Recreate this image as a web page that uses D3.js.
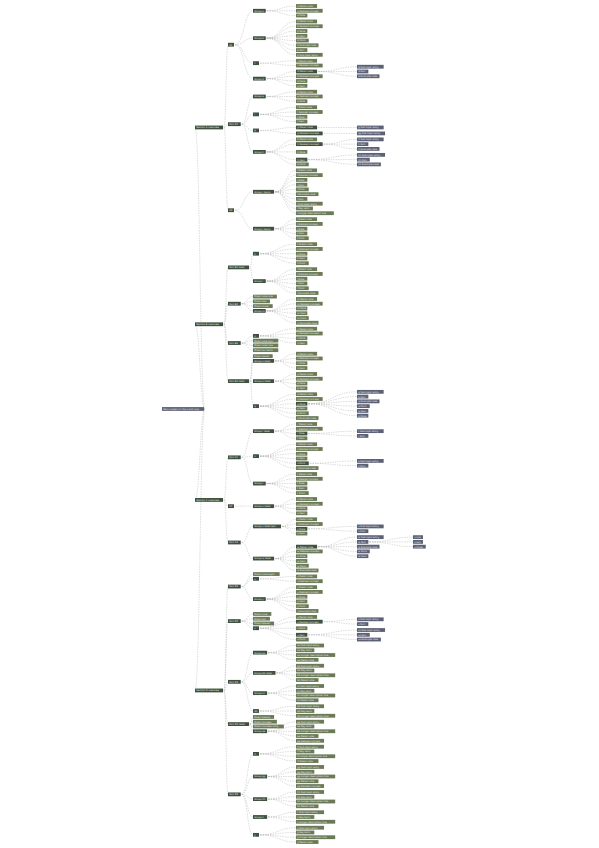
<!DOCTYPE html>
<html><head><meta charset="utf-8">
<script src="https://cdn.jsdelivr.net/npm/d3@7"></script>
<style>body{margin:0;background:#fff}</style></head>
<body><svg id="c" width="599" height="848"></svg>
<script>
// Tree data (labels in the reference are illegible at this size; short labels used)
const words = ["Item","Detail note","Sub topic entry","Point","Related concept","Key term","Example case","Note","Longer description line","Fact"];
function leaves(n, pre, kids) {
  const out = [];
  for (let i = 0; i < n; i++) {
    const o = {name: pre + " " + words[(i * 3 + pre.length) % words.length]};
    if (kids && kids[i]) o.children = kids[i];
    out.push(o);
  }
  return out;
}
function purple(n, pre, deep) {
  const out = [];
  for (let i = 0; i < n; i++) {
    const o = {name: pre + " " + words[(i * 7 + 2) % words.length], deep: true};
    if (deep && deep[i]) o.children = deep[i].map(t => ({name: t, deep: true}));
    out.push(o);
  }
  return out;
}
const branchA = {name: "Section A overview", children: [
  {name: "A1", children: [
    {name: "Group a", children: leaves(3, "a")},
    {name: "Group b", children: leaves(8, "b")},
    {name: "c", children: leaves(2, "c")},
    {name: "Group d", children: leaves(4, "d", {0: purple(3, "d")})}]},
  {name: "Part A2", children: [
    {name: "Group e", children: leaves(3, "e")},
    {name: "f", children: leaves(4, "f")},
    {name: "g", children: leaves(2, "g", {0: purple(1, "g"), 1: purple(1, "gg")})},
    {name: "Group h", children: leaves(5, "h", {1: purple(3, "h"), 3: purple(3, "hh")})}]},
  {name: "A3", children: [
    {name: "Group i items", children: leaves(10, "i")},
    {name: "Group j items", children: leaves(5, "j")}]}]};
const branchB = {name: "Section B overview", children: [
  {name: "Part B1 label", children: [
    {name: "k", children: leaves(5, "k")},
    {name: "Group l", children: leaves(6, "l")}]},
  {name: "Part B2", children: [
    {name: "Direct note one"}, {name: "Direct two"}, {name: "Direct three"},
    {name: "Group m", children: leaves(6, "m")}]},
  {name: "Part B3", children: [
    {name: "n", children: leaves(4, "n")},
    {name: "Direct note four"}, {name: "Direct note five"}, {name: "Direct six items"}]},
  {name: "Part B4 label", children: [
    {name: "Direct seven"},
    {name: "Group o label", children: leaves(4, "o")},
    {name: "Group p label", children: leaves(4, "p")},
    {name: "q", children: leaves(6, "q", {2: purple(6, "q")})}]}]};
const branchC = {name: "Section C overview", children: [
  {name: "Part C1", children: [
    {name: "Group r label", children: leaves(4, "r", {2: purple(2, "r")})},
    {name: "s", children: leaves(6, "s", {4: purple(2, "s")})},
    {name: "Group t", children: leaves(5, "t")}]},
  {name: "C2", children: [
    {name: "Group u label", children: leaves(4, "u")}]},
  {name: "Part C3", children: [
    {name: "Group v label text", children: leaves(4, "v", {2: purple(2, "v")})},
    {name: "Group w label", children: leaves(6, "w", {0: purple(5, "w", {1: ["x one", "x two", "x three"]})})}]}]};
const branchD = {name: "Section D overview", children: [
  {name: "Part D1", children: [
    {name: "Direct note eight"},
    {name: "x", children: leaves(2, "x")},
    {name: "Group y", children: leaves(6, "y")}]},
  {name: "Part D2", children: [
    {name: "Direct nine"}, {name: "Direct ten"}, {name: "Direct eleven"},
    {name: "z", children: leaves(5, "z", {1: purple(2, "z"), 3: purple(3, "zz")})}]},
  {name: "Part D3", children: [
    {name: "Group aa", children: leaves(4, "aa")},
    {name: "Group bb label", children: leaves(4, "bb")},
    {name: "Group cc", children: leaves(4, "cc")},
    {name: "dd", children: leaves(3, "dd")}]},
  {name: "Part D4 label", children: [
    {name: "Direct twelve"}, {name: "Direct thirteen"}, {name: "Direct fourteen long"},
    {name: "Group ee", children: leaves(5, "ee")}]},
  {name: "Part D5", children: [
    {name: "ff", children: leaves(4, "ff")},
    {name: "Group gg", children: leaves(5, "gg")},
    {name: "Group hh", children: leaves(4, "hh")},
    {name: "Group ii", children: leaves(3, "ii")},
    {name: "jj", children: leaves(4, "jj")}]}]};
const rootData = {name: "Main subject of the mind map", children: [branchA, branchB, branchC, branchD]};
const depthX = [162, 195, 228, 253, 296, 357, 413];

const svg = d3.select("#c");
const root = d3.hierarchy(rootData);
d3.tree().nodeSize([1, 10]).separation((a, b) => a.parent === b.parent ? 1 : 1.25)(root);
const nodes = root.descendants();
const y = d3.scaleLinear().domain(d3.extent(nodes, d => d.x)).range([6, 842]);
const fs = 2.4;
nodes.forEach(d => {
  d.px = depthX[d.depth];
  d.py = y(d.x);
  d.w = Math.max(6, d.data.name.length * fs * 0.58 + 3);
});
const link = d3.linkHorizontal().x(p => p[0]).y(p => p[1]);
svg.append("g").selectAll("path").data(root.links()).join("path")
  .attr("d", l => link({source: [l.source.px + l.source.w + 1, l.source.py], target: [l.target.px, l.target.py]}))
  .attr("fill", "none").attr("stroke", "#b8b8b8").attr("stroke-width", 0.5).attr("stroke-dasharray", "1.5,1");
const g = svg.append("g").selectAll("g").data(nodes).join("g")
  .attr("transform", d => `translate(${d.px},${d.py})`);
g.append("rect").attr("x", 0).attr("y", -1.9).attr("height", 3.8).attr("width", d => d.w)
  .attr("fill", d => d.depth === 0 || d.data.deep ? "#5d6178" : (d.children ? "#3f5040" : "#6a7a58"));
g.append("text").attr("x", 1.2).attr("y", 0.9).attr("font-size", fs)
  .attr("font-family", "DejaVu Sans, sans-serif").attr("fill", "#e8ece0").text(d => d.data.name);
</script></body></html>
